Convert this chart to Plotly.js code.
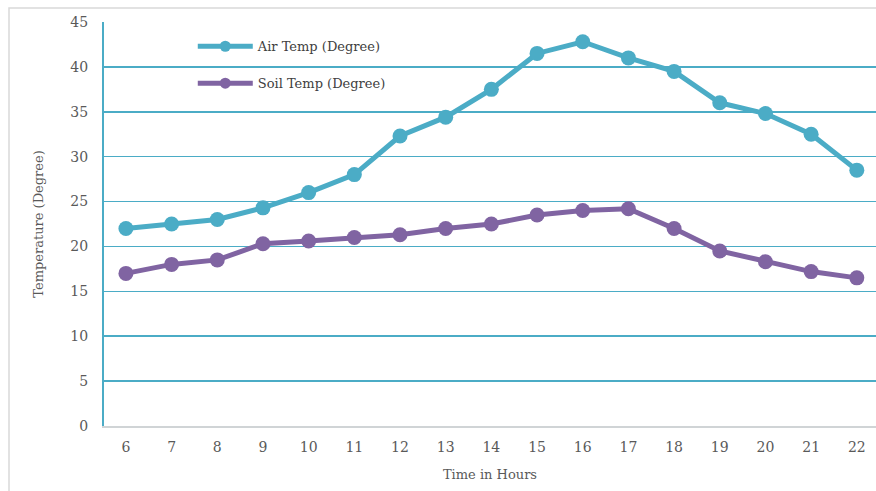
<!DOCTYPE html>
<html>
<head>
<meta charset="utf-8">
<script src="https://cdn.plot.ly/plotly-3.0.1.min.js"></script>
<style>html,body{margin:0;padding:0;background:#fff;}#chart{width:876px;height:491px;}</style>
</head>
<body>
<div id="chart"></div>
<script>
const hours = [6, 7, 8, 9, 10, 11, 12, 13, 14, 15, 16, 17, 18, 19, 20, 21, 22];
const airTemp = [22.0, 22.5, 23.0, 24.3, 26.0, 28.0, 32.3, 34.4, 37.5, 41.5, 42.8, 41.0, 39.5, 36.0, 34.8, 32.5, 28.5];
const soilTemp = [17.0, 18.0, 18.5, 20.3, 20.6, 21.0, 21.3, 22.0, 22.5, 23.5, 24.0, 24.2, 22.0, 19.5, 18.3, 17.2, 16.5];
const yTicks = [0, 5, 10, 15, 20, 25, 30, 35, 40, 45];
const seriesNames = ["Air Temp (Degree)", "Soil Temp (Degree)"];
const seriesColors = ["#4BACC6", "#8064A2"];

const font = "DejaVu Serif, serif";
const traces = [];
[airTemp, soilTemp].forEach((vals, i) => {
  traces.push({x: hours, y: vals, name: seriesNames[i], type: "scatter", mode: "lines+markers",
    showlegend: false, line: {color: seriesColors[i], width: 5}, marker: {color: seriesColors[i], size: 15}});
});
seriesNames.forEach((nm, i) => {
  traces.push({x: [null], y: [null], name: nm, type: "scatter", mode: "lines+markers",
    legendgroup: "g" + i, line: {color: seriesColors[i], width: 5}, marker: {color: seriesColors[i], size: 11}});
});
const layout = {
  width: 876, height: 491,
  margin: {l: 104, r: 0, t: 22, b: 65},
  paper_bgcolor: "#fff", plot_bgcolor: "#fff",
  font: {family: font, size: 13, color: "#595959"},
  showlegend: true,
  legend: {x: 0.115, y: 0.977, xanchor: "left", yanchor: "top", bgcolor: "rgba(0,0,0,0)",
           traceorder: "grouped", tracegroupgap: 17, itemwidth: 55,
           font: {family: font, size: 13, color: "#404040"}},
  xaxis: {range: [5.52, 22.42], tickvals: hours, ticktext: hours.map(String), showgrid: false,
          zeroline: false, showline: true, linecolor: "#d0d4d6", linewidth: 2, ticks: "",
          ticklabelstandoff: 7, tickfont: {size: 14},
          title: {text: "Time in Hours", font: {family: font, size: 13, color: "#595959"}, standoff: 16}},
  yaxis: {range: [0, 45], tickvals: yTicks, showgrid: true, gridcolor: "#4BACC6", gridwidth: 1.6,
          zeroline: false, showline: true, linecolor: "#4BACC6", linewidth: 2, ticks: "",
          ticklabelstandoff: 11, tickfont: {size: 14},
          title: {text: "Temperature (Degree)", font: {family: font, size: 13, color: "#595959"}, standoff: 24}},
  shapes: [{type: "rect", xref: "paper", yref: "paper", x0: (9 - 104) / 772, x1: 1.05,
            y0: -0.3, y1: 1 + (22 - 8) / 404, line: {color: "#d9d9d9", width: 1.5}, layer: "below"}]
};
Plotly.newPlot("chart", traces, layout, {displayModeBar: false, staticPlot: true});
</script>
</body>
</html>
